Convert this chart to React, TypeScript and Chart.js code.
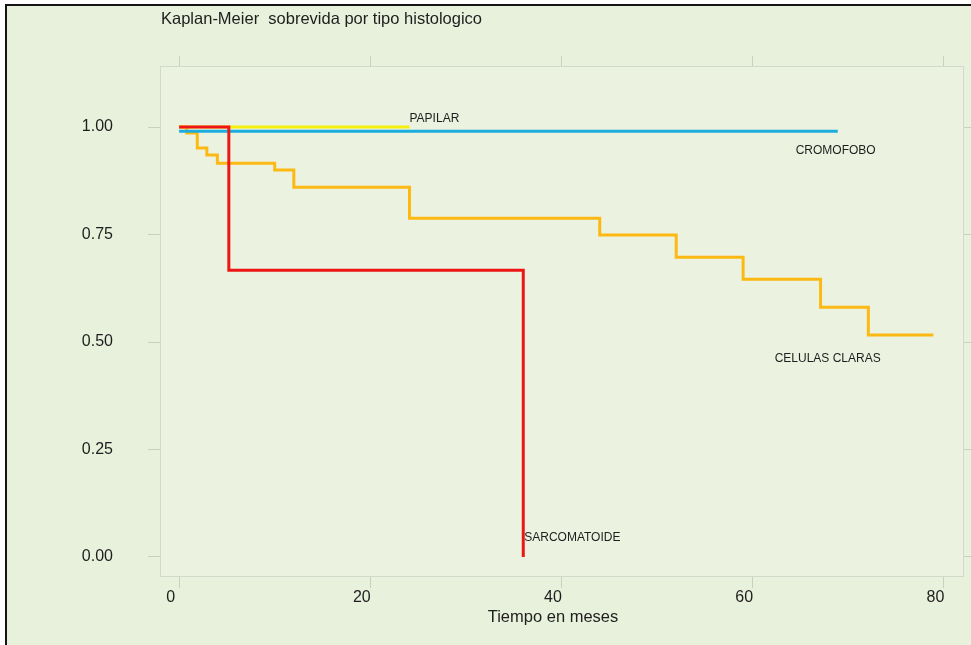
import React, { useEffect, useRef } from 'react';
import { Chart, registerables } from 'chart.js';

Chart.register(...registerables);

// ---- data ----
const chartTitle = 'Kaplan-Meier  sobrevida por tipo histologico';
const xAxisTitle = 'Tiempo en meses';
const xTickValues = [0, 20, 40, 60, 80];
const yTickValues = [0, 0.25, 0.5, 0.75, 1];

const seriesNames = ['CELULAS CLARAS', 'CROMOFOBO', 'PAPILAR', 'SARCOMATOIDE'];

const clarasTimes = [0, 0.8, 1.9, 2.9, 4.0, 10.0, 12.0, 24.1, 44.0, 52.0, 59.0, 67.1, 72.1, 78.9];
const clarasSurv = [1.0, 0.986, 0.951, 0.935, 0.916, 0.9, 0.86, 0.788, 0.749, 0.697, 0.646, 0.581, 0.516, 0.516];

const cromofoboTimes = [0, 68.9];
const cromofoboSurv = [0.99, 0.99];

const papilarTimes = [0, 24.1];
const papilarSurv = [1.0, 1.0];

const sarcomatoideTimes = [0, 5.2, 36.0];
const sarcomatoideSurv = [1.0, 0.667, 0.0];

// curve labels (data coordinates, text baseline)
const curveLabelText = ['PAPILAR', 'CROMOFOBO', 'CELULAS CLARAS', 'SARCOMATOIDE'];
const curveLabelX = [24.1, 64.5, 62.3, 36.1];
const curveLabelY = [1.0116, 0.937, 0.4535, 0.0372];

// ---- styles ----
const FONT = '"Liberation Sans", Arial, Helvetica, sans-serif';
const pageBg = '#e8f1db';
const plotBg = '#ebf3e0';
const tickColor = '#c9d0c1';
const frameColor = '#d2d9ca';
const textColor = '#1e1e1e';

const toPoints = (xs: number[], ys: number[]) => xs.map((x, i) => ({ x, y: ys[i] }));

const overlayPlugin = {
  id: 'overlay',
  beforeDraw(chart: any) {
    const { ctx, chartArea: a } = chart;
    ctx.save();
    ctx.fillStyle = plotBg;
    ctx.fillRect(a.left, a.top, a.right - a.left, a.bottom - a.top);
    ctx.restore();
  },
  afterDraw(chart: any) {
    const { ctx, chartArea: a } = chart;
    const xs = chart.scales.x;
    const ys = chart.scales.y;
    ctx.save();
    ctx.fillStyle = textColor;
    ctx.textBaseline = 'alphabetic';
    ctx.textAlign = 'left';
    ctx.font = `16.5px ${FONT}`;
    ctx.fillText(chartTitle, a.left + 1, 24);
    ctx.textAlign = 'center';
    ctx.fillText(xAxisTitle, (a.left + a.right) / 2 - 8.5, 622);
    ctx.textAlign = 'left';
    ctx.font = `12px ${FONT}`;
    curveLabelText.forEach((t, i) => {
      ctx.fillText(t, xs.getPixelForValue(curveLabelX[i]), ys.getPixelForValue(curveLabelY[i]));
    });
    ctx.restore();
  },
};

export default function App() {
  const canvasRef = useRef<HTMLCanvasElement | null>(null);

  useEffect(() => {
    document.body.style.margin = '0';
    const canvas = canvasRef.current;
    if (!canvas) return;

    const yMin = -0.0442;
    const yMax = 1.1419;
    const xMin = -2;
    const xMax = 82;

    const fixedXTicks = (s: any) => {
      s.ticks = xTickValues.map((v) => ({ value: v }));
    };
    const fixedYTicks = (s: any) => {
      s.ticks = yTickValues.map((v) => ({ value: v }));
    };

    const chart = new Chart(canvas, {
      type: 'line',
      data: {
        datasets: [
          {
            label: seriesNames[0],
            data: toPoints(clarasTimes, clarasSurv),
            borderColor: '#fdb913',
            order: 4,
          },
          {
            label: seriesNames[1],
            data: toPoints(cromofoboTimes, cromofoboSurv),
            borderColor: '#1badde',
            order: 3,
          },
          {
            label: seriesNames[2],
            data: toPoints(papilarTimes, papilarSurv),
            borderColor: '#f4f00c',
            order: 2,
          },
          {
            label: seriesNames[3],
            data: toPoints(sarcomatoideTimes, sarcomatoideSurv),
            borderColor: '#ee1515',
            order: 1,
          },
        ].map((d) => ({
          ...d,
          stepped: 'before' as const,
          borderWidth: 3,
          pointRadius: 0,
          fill: false,
          tension: 0,
        })),
      },
      options: {
        animation: false,
        responsive: false,
        devicePixelRatio: 1,
        layout: { padding: { top: 56, left: 0, right: 0, bottom: 0 } },
        plugins: {
          legend: { display: false },
          tooltip: { enabled: false },
          title: { display: false },
        },
        scales: {
          x: {
            type: 'linear',
            position: 'bottom',
            min: xMin,
            max: xMax,
            afterBuildTicks: fixedXTicks,
            afterFit: (s: any) => {
              s.height = 69;
            },
            ticks: {
              font: { size: 16, family: FONT },
              color: textColor,
              padding: 0,
              labelOffset: -8.5,
              maxRotation: 0,
            },
            grid: { drawOnChartArea: false, tickLength: 12, tickColor: tickColor, color: tickColor },
            border: { display: true, color: frameColor, width: 1 },
          },
          x2: {
            type: 'linear',
            position: 'top',
            min: xMin,
            max: xMax,
            afterBuildTicks: fixedXTicks,
            afterFit: (s: any) => {
              s.height = 10;
            },
            ticks: { display: false },
            grid: { drawOnChartArea: false, tickLength: 10, tickColor: tickColor, color: tickColor },
            border: { display: true, color: frameColor, width: 1 },
          },
          y: {
            type: 'linear',
            position: 'left',
            min: yMin,
            max: yMax,
            afterBuildTicks: fixedYTicks,
            afterFit: (s: any) => {
              s.width = 160;
            },
            ticks: {
              font: { size: 16, family: FONT },
              color: textColor,
              padding: 35,
              callback: (v: any) => Number(v).toFixed(2),
            },
            grid: { drawOnChartArea: false, tickLength: 12, tickColor: tickColor, color: tickColor },
            border: { display: true, color: frameColor, width: 1 },
          },
          y2: {
            type: 'linear',
            position: 'right',
            min: yMin,
            max: yMax,
            afterBuildTicks: fixedYTicks,
            afterFit: (s: any) => {
              s.width = 8;
            },
            ticks: { display: false },
            grid: { drawOnChartArea: false, tickLength: 8, tickColor: tickColor, color: tickColor },
            border: { display: true, color: frameColor, width: 1 },
          },
        },
      },
      plugins: [overlayPlugin],
    });

    return () => {
      chart.destroy();
    };
  }, []);

  return (
    <div style={{ position: 'relative', width: 971, height: 645, background: '#ffffff', overflow: 'hidden' }}>
      <div
        style={{
          position: 'absolute',
          left: 5,
          top: 4,
          width: 966,
          height: 641,
          background: pageBg,
          borderLeft: '2px solid #141414',
          borderTop: '2px solid #141414',
          boxSizing: 'border-box',
        }}
      />
      <canvas
        ref={canvasRef}
        width={971}
        height={645}
        style={{ position: 'absolute', left: 0, top: 0, width: 971, height: 645 }}
      />
    </div>
  );
}
